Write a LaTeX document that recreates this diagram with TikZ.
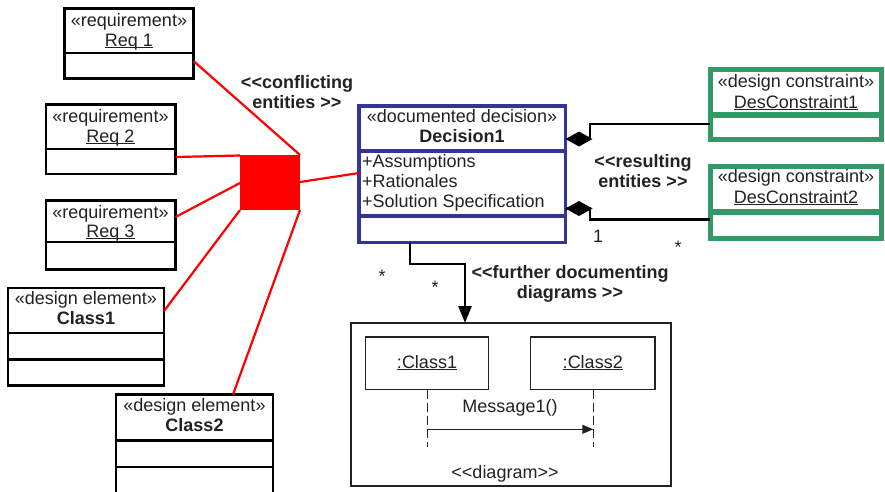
\documentclass[tikz,border=0pt]{standalone}
\usepackage{fontspec}
\setmainfont{Liberation Sans}[Ligatures=TeXOff]
\usetikzlibrary{arrows.meta}
\definecolor{decblue}{RGB}{51,51,153}
\definecolor{dcgreen}{RGB}{51,153,102}
\definecolor{txt}{RGB}{34,34,34}
% underline sitting just below the baseline
\newcommand\ulx[1]{\setbox0\hbox{#1}\rlap{\rule[-2.4pt]{\wd0}{1.1pt}}\box0}
\begin{document}
\begin{tikzpicture}[x=1pt,y=-1pt,
  lbl/.style={font=\fontsize{18}{20}\selectfont, text=txt, inner sep=0pt, outer sep=0pt, anchor=base},
  bl/.style={lbl, font=\fontsize{18}{20}\selectfont\bfseries},
  ubox/.style={draw=#1, fill=white, anchor=north west, inner sep=0pt, outer sep=0pt},
  blackbox/.style={ubox=black, line width=2.5pt},
  redline/.style={red, line width=2.2pt},
  conn/.style={black, line width=2.5pt},
  lifeline/.style={txt, line width=1.2pt, dash pattern=on 9pt off 4pt},
]
\useasboundingbox (0,0) rectangle (885,491);
\fill[white] (0,0) rectangle (885,491);
\clip (0,0) rectangle (885,491);

% ---- conflict hub and the entities it links ----
\node[fill=red, anchor=north west, inner sep=0pt, outer sep=0pt,
      minimum width=60pt, minimum height=55pt] (cf) at (240,155) {};

\node[blackbox, minimum width=129pt, minimum height=70pt] (req1) at (64.5,8.5) {};
\node[blackbox, minimum width=129.5pt, minimum height=69.5pt] (req2) at (46,104.5) {};
\node[blackbox, minimum width=129.5pt, minimum height=69pt] (req3) at (46,200.5) {};
\node[blackbox, minimum width=156pt, minimum height=97.5pt] (cl1) at (8,288) {};
\node[blackbox, minimum width=157pt, minimum height=130pt] (cl2) at (116,394.5) {};

\draw[line width=2.5pt] (req1.west |- 0,53) -- (req1.east |- 0,53);
\draw[line width=2.5pt] (req2.west |- 0,149) -- (req2.east |- 0,149);
\draw[line width=2.5pt] (req3.west |- 0,242) -- (req3.east |- 0,242);
\draw[line width=2.5pt] (cl1.west |- 0,333) -- (cl1.east |- 0,333);
\draw[line width=2.5pt] (cl1.west |- 0,359.5) -- (cl1.east |- 0,359.5);
\draw[line width=2.5pt] (cl2.west |- 0,440.5) -- (cl2.east |- 0,440.5);
\draw[line width=2.5pt] (cl2.west |- 0,467) -- (cl2.east |- 0,467);

\node[lbl] (req1s) at (129,26) {«requirement»};
\node[lbl] (req1n) at (129,46) {\ulx{Req 1}};
\node[lbl] (req2s) at (110.5,122) {«requirement»};
\node[lbl] (req2n) at (110.5,142) {\ulx{Req 2}};
\node[lbl] (req3s) at (110.5,218) {«requirement»};
\node[lbl] (req3n) at (110.5,237) {\ulx{Req 3}};
\node[lbl] (cl1s) at (86,304) {«design element»};
\node[bl] (cl1n) at (86,324) {Class1};
\node[lbl] (cl2s) at (194.5,411) {«design element»};
\node[bl] (cl2n) at (194.5,431) {Class2};

% ---- documented decision ----
\node[ubox=decblue, line width=3.5pt, minimum width=206.5pt, minimum height=136.5pt] (dec) at (359,106) {};
\draw[decblue, line width=3.5pt] (dec.west |- 0,151) -- (dec.east |- 0,151);
\draw[decblue, line width=3.5pt] (dec.west |- 0,216) -- (dec.east |- 0,216);
\node[lbl] (decs) at (462,122) {«documented decision»};
\node[bl] (decn) at (462,142) {Decision1};
\node[lbl, anchor=base west] (att1) at (362,167) {+Assumptions};
\node[lbl, anchor=base west] (att2) at (362,187) {+Rationales};
\node[lbl, anchor=base west] (att3) at (362,207) {+Solution Specification};

% red links into the conflict hub
\draw[redline] (req1.east |- 0,61) -- (cf.north east);
\draw[redline] (req2.east |- 0,157) -- (cf.west |- 0,155.5);
\draw[redline] (req3.east |- 0,217) -- (cf.west |- 0,183);
\draw[redline] (cl1.east |- 0,311) -- (cf.south west);
\draw[redline] (cl2.north -| 233,0) -- (cf.south east);
\draw[redline] (cf.east |- 0,182) -- (dec.west |- 0,173);

\node[bl] (conf1) at (297,88) {<<conflicting};
\node[bl] (conf2) at (297,108) {entities >>};

% ---- design constraints ----
\node[ubox=dcgreen, line width=5pt, minimum width=171pt, minimum height=70pt] (dc1) at (710,69.5) {};
\node[ubox=dcgreen, line width=5pt, minimum width=171pt, minimum height=72pt] (dc2) at (710,166) {};
\draw[dcgreen, line width=5.5pt] (dc1.west |- 0,115) -- (dc1.east |- 0,115);
\draw[dcgreen, line width=5.5pt] (dc2.west |- 0,212) -- (dc2.east |- 0,212);
\node[lbl] (dc1s) at (796,87) {«design constraint»};
\node[lbl] (dc1n) at (796,108) {\ulx{DesConstraint1}};
\node[lbl] (dc2s) at (796,182) {«design constraint»};
\node[lbl] (dc2n) at (796,203) {\ulx{DesConstraint2}};

% composition links
\draw[conn] (dec.east |- 0,139) -- ++(24.5,0) |- (dc1.west |- 0,124);
\draw[conn] (dec.east |- 0,208.5) -- ++(24.5,0) |- (dc2.west |- 0,219.5);
\fill[black] (dec.east |- 0,139) -- ++(13.5,-7.5) -- ++(13.5,7.5) -- ++(-13.5,7.5) -- cycle;
\fill[black] (dec.east |- 0,208.5) -- ++(13.5,-7.5) -- ++(13.5,7.5) -- ++(-13.5,7.5) -- cycle;

\node[bl] (res1) at (643,167) {<<resulting};
\node[bl] (res2) at (643,187) {entities >>};
\node[lbl] (mone) at (598,242) {1};
\node[lbl] (mstar1) at (678,253) {*};

% ---- documenting diagram ----
\node[ubox=txt, line width=2pt, minimum width=320.5pt, minimum height=163pt] (diag) at (350.5,323) {};
\node[ubox=txt, line width=1.3pt, minimum width=123pt, minimum height=52.5pt] (oc1) at (365.5,337) {};
\node[ubox=txt, line width=1.3pt, minimum width=124.5pt, minimum height=52.5pt] (oc2) at (530.5,337) {};
\node[lbl] (oc1n) at (oc1.center |- 0,368) {\ulx{:Class1}};
\node[lbl] (oc2n) at (oc2.center |- 0,368) {\ulx{:Class2}};
\coordinate (ll1) at (427.3,447);
\coordinate (ll2) at (593.3,447);
\draw[lifeline] (oc1.south -| ll1) -- (ll1);
\draw[lifeline] (oc2.south -| ll2) -- (ll2);
\draw[txt, line width=1.2pt, -{Triangle[length=11pt,width=9pt]}] (ll1 |- 0,429.3) -- (ll2 |- 0,429.3);
\node[lbl] (msg) at (510,412) {Message1()};
\node[lbl] (dgl) at (505,478) {<<diagram>>};

\draw[conn, -{Triangle[length=17pt,width=13pt]}] (dec.south -| 410,0) |- (465,264) -- (diag.north -| 465,0);
\node[lbl] (mstar2) at (382,282) {*};
\node[lbl] (mstar3) at (435,293) {*};
\node[bl] (fur1) at (570,278) {<<further documenting};
\node[bl] (fur2) at (570,298) {diagrams >>};
\end{tikzpicture}
\end{document}
